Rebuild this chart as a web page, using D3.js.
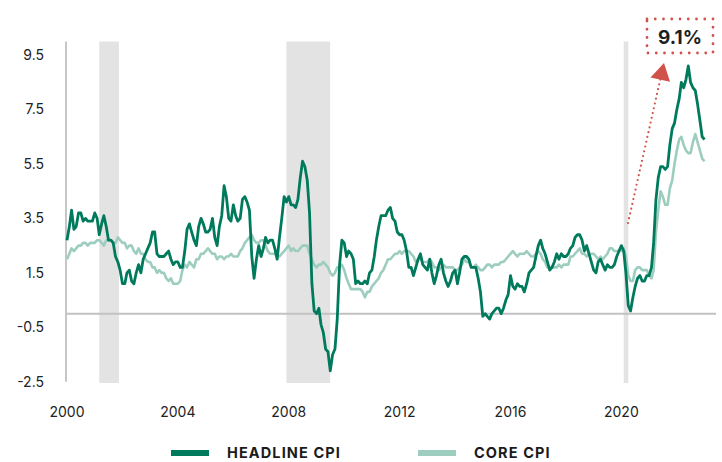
<!DOCTYPE html>
<html lang="en">
<head>
  <meta charset="UTF-8">
  <title>Headline vs Core CPI</title>
  <script src="https://d3js.org/d3.v7.min.js"></script>
  <style>
    body {
      margin: 0;
      background: #fff;
      font-family: Inter, "Open Sans", sans-serif;
    }

    .tick-label {
      font-size: 14px;
      fill: #222;
    }

    .legend-label {
      font-size: 14.5px;
      font-weight: 700;
      letter-spacing: 1.1px;
      fill: #1a1a1a;
    }
  </style>
</head>
<body>
  <svg width="722" height="462"></svg>

  <script>
    // monthly YoY %, Jan 2000 .. Jan 2023
    const headline = [
      2.7, 3.2, 3.8, 3.1, 3.2, 3.7, 3.7, 3.4, 3.5, 3.4, 3.4, 3.4,
      3.7, 3.5, 2.9, 3.3, 3.6, 3.2, 2.7, 2.7, 2.6, 2.1, 1.9, 1.6,
      1.1, 1.1, 1.5, 1.6, 1.2, 1.1, 1.5, 1.8, 1.5, 2.0, 2.2, 2.4,
      2.6, 3.0, 3.0, 2.2, 2.1, 2.1, 2.1, 2.2, 2.3, 2.0, 1.8, 1.9,
      1.9, 1.7, 1.7, 2.3, 3.1, 3.3, 3.0, 2.7, 2.5, 3.2, 3.5, 3.3,
      3.0, 3.0, 3.1, 3.5, 2.8, 2.5, 3.2, 3.6, 4.7, 4.3, 3.5, 3.4,
      4.0, 3.6, 3.4, 3.5, 4.2, 4.3, 4.1, 3.8, 2.1, 1.3, 2.0, 2.5,
      2.1, 2.4, 2.8, 2.6, 2.7, 2.7, 2.4, 2.0, 2.8, 3.5, 4.3, 4.1,
      4.3, 4.0, 4.0, 3.9, 4.2, 5.0, 5.6, 5.4, 4.9, 3.7, 1.1, 0.1,
      0.0, 0.2, -0.4, -0.7, -1.3, -1.4, -2.1, -1.5, -1.3, -0.2, 1.8, 2.7,
      2.6, 2.1, 2.3, 2.2, 2.0, 1.1, 1.2, 1.1, 1.1, 1.2, 1.1, 1.5,
      1.6, 2.1, 2.7, 3.2, 3.6, 3.6, 3.6, 3.8, 3.9, 3.5, 3.4, 3.0,
      2.9, 2.9, 2.7, 2.3, 1.7, 1.7, 1.4, 1.7, 2.0, 2.2, 1.8, 1.7,
      1.6, 2.0, 1.5, 1.1, 1.4, 1.8, 2.0, 1.5, 1.2, 1.0, 1.2, 1.5,
      1.6, 1.1, 1.5, 2.0, 2.1, 2.1, 2.0, 1.7, 1.7, 1.7, 1.3, 0.8,
      -0.1, 0.0, -0.1, -0.2, 0.0, 0.1, 0.2, 0.2, 0.0, 0.2, 0.5, 0.7,
      1.4, 1.0, 0.9, 1.1, 1.0, 1.0, 0.8, 1.1, 1.5, 1.6, 1.7, 2.1,
      2.5, 2.7, 2.4, 2.2, 1.9, 1.6, 1.7, 1.9, 2.2, 2.0, 2.2, 2.1,
      2.1, 2.2, 2.4, 2.5, 2.8, 2.9, 2.9, 2.7, 2.3, 2.5, 2.2, 1.9,
      1.6, 1.5, 1.9, 2.0, 1.8, 1.6, 1.8, 1.7, 1.7, 1.8, 2.1, 2.3,
      2.5, 2.3, 1.5, 0.3, 0.1, 0.6, 1.0, 1.3, 1.4, 1.2, 1.2, 1.4,
      1.4, 1.7, 2.6, 4.2, 5.0, 5.4, 5.4, 5.3, 5.4, 6.2, 6.8, 7.0,
      7.5, 7.9, 8.5, 8.3, 8.6, 9.1, 8.5, 8.3, 8.2, 7.7, 7.1, 6.5,
      6.4
    ];

    const core = [
      2.0, 2.2, 2.4, 2.3, 2.4, 2.5, 2.5, 2.6, 2.6, 2.5, 2.6, 2.6,
      2.6, 2.7, 2.7, 2.6, 2.5, 2.7, 2.7, 2.7, 2.6, 2.6, 2.8, 2.7,
      2.6, 2.6, 2.4, 2.5, 2.5, 2.3, 2.2, 2.4, 2.2, 2.2, 2.0, 1.9,
      1.9, 1.7, 1.7, 1.5, 1.6, 1.5, 1.5, 1.3, 1.2, 1.3, 1.1, 1.1,
      1.1, 1.2, 1.6, 1.8, 1.7, 1.9, 1.8, 1.7, 2.0, 2.0, 2.2, 2.2,
      2.3, 2.4, 2.3, 2.2, 2.2, 2.0, 2.1, 2.1, 2.0, 2.1, 2.1, 2.2,
      2.1, 2.1, 2.1, 2.3, 2.4, 2.6, 2.7, 2.8, 2.9, 2.7, 2.6, 2.6,
      2.7, 2.7, 2.5, 2.3, 2.2, 2.2, 2.2, 2.1, 2.1, 2.2, 2.3, 2.4,
      2.5, 2.3, 2.4, 2.3, 2.3, 2.4, 2.5, 2.5, 2.5, 2.2, 2.0, 1.8,
      1.7, 1.8, 1.8, 1.9, 1.8, 1.7, 1.5, 1.4, 1.5, 1.7, 1.7, 1.8,
      1.6, 1.3, 1.1, 0.9, 0.9, 0.9, 0.9, 0.9, 0.8, 0.6, 0.8, 0.8,
      1.0, 1.1, 1.2, 1.3, 1.5, 1.6, 1.8, 2.0, 2.0, 2.1, 2.2, 2.2,
      2.3, 2.2, 2.3, 2.3, 2.3, 2.2, 2.1, 1.9, 2.0, 2.0, 1.9, 1.9,
      1.9, 2.0, 1.9, 1.7, 1.7, 1.6, 1.7, 1.8, 1.7, 1.7, 1.7, 1.7,
      1.6, 1.6, 1.7, 1.8, 2.0, 1.9, 1.9, 1.7, 1.7, 1.8, 1.7, 1.6,
      1.6, 1.7, 1.8, 1.8, 1.7, 1.8, 1.8, 1.8, 1.9, 1.9, 2.0, 2.1,
      2.2, 2.3, 2.2, 2.1, 2.2, 2.2, 2.2, 2.3, 2.2, 2.1, 2.1, 2.2,
      2.3, 2.2, 2.0, 1.9, 1.7, 1.7, 1.7, 1.7, 1.7, 1.8, 1.7, 1.8,
      1.8, 1.8, 2.1, 2.1, 2.2, 2.3, 2.4, 2.2, 2.2, 2.1, 2.2, 2.2,
      2.2, 2.1, 2.0, 2.1, 2.0, 2.1, 2.2, 2.4, 2.4, 2.3, 2.3, 2.3,
      2.3, 2.4, 2.1, 1.4, 1.2, 1.2, 1.6, 1.7, 1.7, 1.6, 1.6, 1.6,
      1.4, 1.3, 1.6, 3.0, 3.8, 4.5, 4.3, 4.0, 4.0, 4.6, 4.9, 5.5,
      6.0, 6.4, 6.5, 6.2, 6.0, 5.9, 5.9, 6.3, 6.6, 6.3, 6.0, 5.7,
      5.6
    ];

    const recessions = [
      ["2001-03-01", "2001-11-15"],
      ["2007-12-01", "2009-06-30"],
      ["2020-02-01", "2020-04-01"]
    ];

    const yTicks = [-2.5, -0.5, 1.5, 3.5, 5.5, 7.5, 9.5];
    const xTickYears = [2000, 2004, 2008, 2012, 2016, 2020];
    const seriesNames = ["HEADLINE CPI", "CORE CPI"];
    const peakLabel = "9.1%";

    const HEAD_COLOR = "#007a5c";
    const CORE_COLOR = "#9dcdbf";
    const RED = "#d0524b";

    const svg = d3.select("svg");

    const x = d3.scaleTime()
      .domain([new Date(2000, 0, 1), new Date(2023, 5, 1)])
      .range([67, 716]);

    const y = d3.scaleLinear()
      .domain([-2.5, 10])
      .range([381.7, 41.5]);

    const parse = d3.timeParse("%Y-%m-%d");
    const dates = headline.map((_, i) => new Date(2000, i, 1));

    // recession bands
    svg.append("g")
      .selectAll("rect")
      .data(recessions)
      .enter().append("rect")
      .attr("x", d => x(parse(d[0])))
      .attr("width", d => x(parse(d[1])) - x(parse(d[0])))
      .attr("y", y(10))
      .attr("height", 383 - y(10))
      .attr("fill", "#e3e3e3");

    // y axis line and zero line
    svg.append("line")
      .attr("x1", 66).attr("x2", 66)
      .attr("y1", y(10)).attr("y2", y(-2.5))
      .attr("stroke", "#c6c6c6")
      .attr("stroke-width", 2);

    svg.append("line")
      .attr("x1", 66).attr("x2", 716)
      .attr("y1", y(0)).attr("y2", y(0))
      .attr("stroke", "#c2c2c2")
      .attr("stroke-width", 2);

    // tick labels
    svg.append("g")
      .selectAll("text")
      .data(yTicks)
      .enter().append("text")
      .attr("class", "tick-label")
      .attr("x", 44)
      .attr("y", d => y(d))
      .attr("dy", "0.35em")
      .attr("text-anchor", "end")
      .text(d => d3.format(".1f")(d).replace("−", "-"));

    svg.append("g")
      .selectAll("text")
      .data(xTickYears)
      .enter().append("text")
      .attr("class", "tick-label")
      .attr("x", d => x(new Date(d, 0, 1)))
      .attr("y", 412)
      .attr("dy", "0.35em")
      .attr("text-anchor", "middle")
      .text(d => d);

    // lines
    const line = d3.line()
      .x((d, i) => x(dates[i]))
      .y(d => y(d));

    svg.append("path")
      .datum(core)
      .attr("fill", "none")
      .attr("stroke", CORE_COLOR)
      .attr("stroke-width", 2.6)
      .attr("stroke-linejoin", "round")
      .attr("d", line);

    svg.append("path")
      .datum(headline)
      .attr("fill", "none")
      .attr("stroke", HEAD_COLOR)
      .attr("stroke-width", 2.8)
      .attr("stroke-linejoin", "round")
      .attr("d", line);

    // annotation: dotted arrow and box
    const arrowStart = [628, 223];
    const arrowTip = [664, 63];
    const ang = Math.atan2(arrowTip[1] - arrowStart[1], arrowTip[0] - arrowStart[0]);
    const headLen = 17;
    const baseX = arrowTip[0] - headLen * Math.cos(ang);
    const baseY = arrowTip[1] - headLen * Math.sin(ang);

    svg.append("line")
      .attr("x1", arrowStart[0]).attr("y1", arrowStart[1])
      .attr("x2", baseX).attr("y2", baseY)
      .attr("stroke", RED)
      .attr("stroke-width", 2.2)
      .attr("stroke-linecap", "round")
      .attr("stroke-dasharray", "0 4.9");

    const px = -Math.sin(ang), py = Math.cos(ang);
    svg.append("path")
      .attr("d", `M${arrowTip[0]},${arrowTip[1]}L${baseX + px * 10},${baseY + py * 10}L${baseX - px * 10},${baseY - py * 10}Z`)
      .attr("fill", RED);

    svg.append("rect")
      .attr("x", 647).attr("y", 19)
      .attr("width", 66).attr("height", 34)
      .attr("fill", "none")
      .attr("stroke", RED)
      .attr("stroke-width", 2.8)
      .attr("stroke-linecap", "round")
      .attr("stroke-dasharray", "0 8.25");

    svg.append("text")
      .attr("x", 680).attr("y", 37)
      .attr("dy", "0.35em")
      .attr("text-anchor", "middle")
      .attr("font-size", 19)
      .attr("font-weight", 700)
      .attr("fill", "#1e1e1e")
      .text(peakLabel);

    // legend
    const legendX = [171, 418];
    const legend = svg.append("g")
      .selectAll("g")
      .data(seriesNames)
      .enter().append("g")
      .attr("transform", (d, i) => `translate(${legendX[i]},453)`);

    legend.append("rect")
      .attr("x", 0).attr("y", -3)
      .attr("width", 38).attr("height", 6)
      .attr("fill", (d, i) => i === 0 ? HEAD_COLOR : CORE_COLOR);

    legend.append("text")
      .attr("class", "legend-label")
      .attr("x", 56)
      .attr("dy", "0.36em")
      .text(d => d);
  </script>
</body>
</html>
